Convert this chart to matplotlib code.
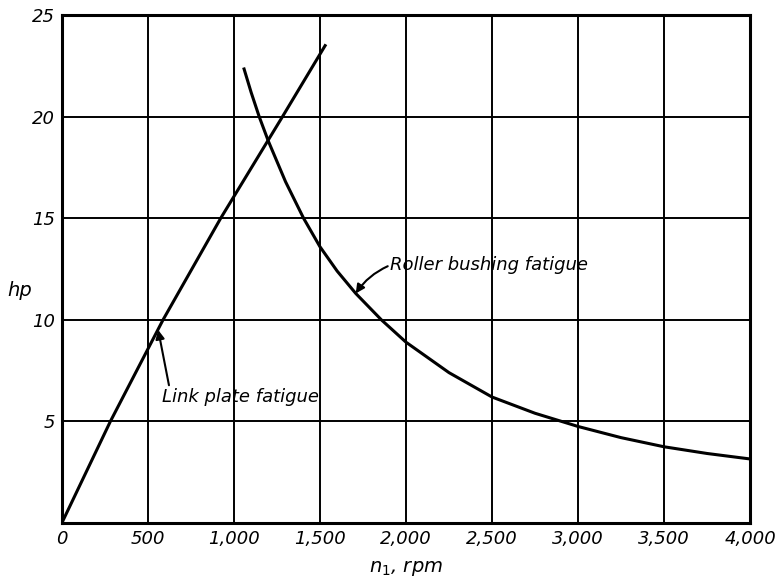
import matplotlib.pyplot as plt

# Link plate fatigue (hp vs rpm)
link_rpm = [0, 282, 588, 923, 1282, 1530]
link_hp = [0, 5, 10, 15, 20, 23.5]

# Roller bushing fatigue
roller_rpm = [1059, 1100, 1147, 1200, 1300, 1405, 1500, 1600, 1708, 1857, 2000,
              2250, 2500, 2750, 3000, 3250, 3500, 3750, 4000]
roller_hp = [22.35, 21.2, 20, 18.8, 16.8, 15, 13.6, 12.4, 11.3, 10, 8.9,
             7.4, 6.2, 5.4, 4.75, 4.2, 3.75, 3.42, 3.15]

x_ticks = [0, 500, 1000, 1500, 2000, 2500, 3000, 3500, 4000]
x_labels = ['0', '500', '1,000', '1,500', '2,000', '2,500', '3,000', '3,500', '4,000']
y_ticks = [5, 10, 15, 20, 25]
y_labels = ['5', '10', '15', '20', '25']

fig = plt.figure(figsize=(7.83, 5.83), dpi=100)
ax = fig.add_axes([0.079, 0.103, 0.879, 0.871])

ax.plot(link_rpm, link_hp, color='black', lw=2.2)
ax.plot(roller_rpm, roller_hp, color='black', lw=2.2)

ax.set_xlim(0, 4000)
ax.set_ylim(0, 25)
ax.set_xticks(x_ticks)
ax.set_xticklabels(x_labels, fontsize=13, style='italic')
ax.set_yticks(y_ticks)
ax.set_yticklabels(y_labels, fontsize=13, style='italic')
ax.tick_params(length=0, pad=5)
ax.grid(True, color='black', lw=1.4)
for s in ax.spines.values():
    s.set_linewidth(2.2)

fig.text(20 / 783, 1 - 290 / 583, 'hp', fontsize=14, style='italic', ha='center', va='center')
ax.set_xlabel('$n_1$, rpm', fontsize=14, style='italic', labelpad=8)

ax.annotate('Link plate fatigue', xy=(560, 9.5), xytext=(580, 6.2),
            fontsize=13, style='italic', va='center',
            arrowprops=dict(arrowstyle='-|>', color='black', lw=1.5,
                            shrinkA=0, shrinkB=0, relpos=(0.05, 1.0)))
ax.annotate('Roller bushing fatigue', xy=(1708, 11.3), xytext=(1910, 12.7),
            fontsize=13, style='italic', va='center',
            arrowprops=dict(arrowstyle='-|>', color='black', lw=1.5,
                            shrinkA=0, shrinkB=0, relpos=(0.0, 0.5),
                            connectionstyle='arc3,rad=0.15'))

fig.savefig('out.png', dpi=100)
